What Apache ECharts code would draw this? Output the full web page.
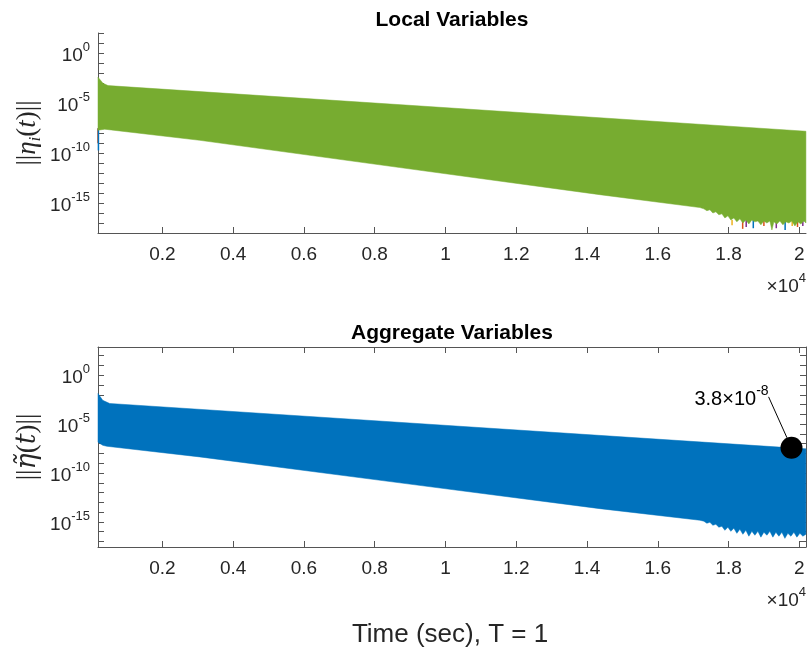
<!DOCTYPE html>
<html><head><meta charset="utf-8">
<script src="https://cdn.jsdelivr.net/npm/echarts@6/dist/echarts.min.js"></script>
<style>html,body{margin:0;padding:0;background:#fff}#c{width:811px;height:653px}</style>
</head><body><div id="c"></div>
<script>
// ---- data ----
const xTicks = [2000, 4000, 6000, 8000, 10000, 12000, 14000, 16000, 18000, 20000];
const yTicks = [1e-17,1e-16,1e-15,1e-14,1e-13,1e-12,1e-11,1e-10,1e-9,1e-8,1e-7,1e-6,1e-5,1e-4,1e-3,1e-2,1e-1,1,10,100];
const yLabelVals = [1e-15, 1e-10, 1e-5, 1];

// Local variables (green band envelopes)
const localUpperT = [178, 319, 461, 20187];
const localUpperV = [3.8e-3, 9.5e-4, 5.5e-4, 1.5e-8];
const localLowerT = [178, 368, 3053, 8708, 14363, 17190,
  17303, 17388, 17473, 17558, 17642, 17727, 17812, 17897, 17982, 18066, 18151, 18236, 18321, 18406, 18490, 18575, 18660, 18745,
  18830, 18915, 18999, 19084, 19169, 19226, 19282, 19367, 19452, 19537, 19621, 19706, 19791, 19876, 19961, 20045, 20130, 20187];
const localLowerV = [1.9e-8, 2.4e-8, 1.86e-9, 3.5e-12, 6.8e-15, 3.5e-16,
  2.6e-16, 1.7e-16, 2.1e-16, 1.0e-16, 1.3e-16, 6.6e-17, 8.3e-17, 3.2e-17, 5.2e-17, 2.0e-17, 3.2e-17, 1.3e-17, 2.6e-17, 1.0e-17, 2.0e-17, 8.1e-18, 2.0e-17, 1.3e-17,
  1.6e-17, 6.5e-18, 1.6e-17, 1.0e-17, 1.6e-17, 2.0e-18, 1.3e-17, 8.1e-18, 1.6e-17, 6.5e-18, 1.3e-17, 1.0e-17, 1.6e-17, 5.1e-18, 1.3e-17, 8.1e-18, 1.6e-17, 1.0e-17];

// other local agents peeking below the green band: [t, top, bottom]
const spikesOrange = [[178, 3e-8, 9.3e-10], [18400, 2e-17, 2.6e-18], [19000, 2e-17, 5e-18], [19950, 2e-17, 4e-18]];
const spikesPurple = [[18500, 2e-17, 4e-18], [19350, 2e-17, 3e-18], [20100, 2e-17, 5e-18]];
const spikesBlue = [[190, 3e-8, 1.8e-10], [18700, 2e-17, 3e-18], [19600, 2e-17, 2e-18]];
const spikesYellow = [[18100, 2e-17, 6e-18], [19800, 2e-17, 5e-18]];

// Aggregate variables (blue band envelopes)
const aggUpperT = [178, 311, 509, 20187];
const aggUpperV = [1.35e-2, 2.75e-3, 1.3e-3, 3.0e-8];
const aggLowerT = [178, 311, 424, 3053, 8708, 14363, 17190,
  17303, 17388, 17473, 17558, 17642, 17727, 17812, 17897, 17982, 18066, 18151, 18236, 18321, 18406, 18490, 18575, 18660, 18745,
  18830, 18915, 18999, 19084, 19169, 19254, 19339, 19424, 19508, 19593, 19678, 19763, 19848, 19932, 20017, 20102, 20187];
const aggLowerV = [1.4e-7, 6.9e-8, 5.5e-8, 4.5e-9, 1.0e-11, 2.3e-14, 1.5e-15,
  1.2e-15, 7.4e-16, 9.3e-16, 4.6e-16, 5.8e-16, 2.9e-16, 3.6e-16, 1.4e-16, 2.9e-16, 1.1e-16, 2.3e-16, 6.9e-17, 1.8e-16, 5.5e-17, 1.4e-16, 3.5e-17, 1.1e-16, 4.4e-17,
  1.1e-16, 2.8e-17, 8.9e-17, 4.4e-17, 1.1e-16, 2.8e-17, 8.9e-17, 3.5e-17, 8.9e-17, 2.1e-17, 6.9e-17, 3.5e-17, 8.9e-17, 2.8e-17, 6.9e-17, 3.5e-17, 5.5e-17];

// annotation point
const annotT = [19780];
const annotV = [3.8e-8];
const annotText = ['3.8×10', '-8'];

// ---- styling ----
const axisColor = '#555555';
const textColor = '#262626';
const sans = 'Liberation Sans, Arial, Helvetica, sans-serif';
const serif = 'Liberation Serif, DejaVu Serif, serif';

function bandSeries(xi, yi, upT, upV, loT, loV, color, z) {
  return {
    type: 'custom', xAxisIndex: xi, yAxisIndex: yi, z: z, silent: true,
    data: [[upT[0], upV[0]]],
    renderItem: function (params, api) {
      const pts = [];
      for (let i = 0; i < upT.length; i++) pts.push(api.coord([upT[i], upV[i]]));
      for (let i = loT.length - 1; i >= 0; i--) pts.push(api.coord([loT[i], loV[i]]));
      return { type: 'polygon', shape: { points: pts }, style: { fill: color, stroke: color, lineWidth: 0.5 } };
    }
  };
}
function spikeSeries(data, color) {
  return {
    type: 'custom', xAxisIndex: 0, yAxisIndex: 0, z: 1, silent: true,
    data: data,
    renderItem: function (params, api) {
      const p1 = api.coord([api.value(0), api.value(1)]);
      const p2 = api.coord([api.value(0), api.value(2)]);
      return { type: 'line', shape: { x1: p1[0], y1: p1[1], x2: p2[0], y2: p2[1] }, style: { stroke: color, lineWidth: 1.5 } };
    }
  };
}

const yLabelRich = {
  b: { fontSize: 19, fontFamily: sans, color: textColor, verticalAlign: 'bottom', lineHeight: 24 },
  s: { fontSize: 13, fontFamily: sans, color: textColor, verticalAlign: 'top', lineHeight: 24 }
};
const annotRich = {
  b: { fontSize: 20, fontFamily: sans, color: '#000', verticalAlign: 'bottom', lineHeight: 25 },
  s: { fontSize: 14, fontFamily: sans, color: '#000', verticalAlign: 'top', lineHeight: 25 }
};
function yFmt(v) {
  const e = Math.round(Math.log10(v));
  return '{b|10}{s|' + e + '}';
}

function xAxisMain(gi) {
  return {
    gridIndex: gi, type: 'value', min: 178, max: 20190,
    axisLine: { show: true, onZero: false, lineStyle: { color: axisColor, width: 1 } },
    axisTick: { show: true, inside: true, length: 6, customValues: xTicks, lineStyle: { color: axisColor } },
    axisLabel: { show: true, customValues: xTicks, margin: 12, fontSize: 19, fontFamily: sans, color: textColor,
      formatter: function (v) { return String(v / 10000); } },
    splitLine: { show: false }
  };
}
function yAxisMain(gi, mn, mx) {
  return {
    gridIndex: gi, type: 'log', logBase: 10, min: mn, max: mx,
    axisLine: { show: true, onZero: false, lineStyle: { color: axisColor, width: 1 } },
    axisTick: { show: true, inside: true, length: 6, customValues: yTicks, lineStyle: { color: axisColor } },
    axisLabel: { show: true, customValues: yLabelVals, margin: 8, formatter: yFmt, rich: yLabelRich },
    splitLine: { show: false }, minorTick: { show: false }
  };
}
const x4Rich = {
  x: { fontSize: 19, fontFamily: sans, fill: textColor, verticalAlign: 'bottom', lineHeight: 24 },
  b: { fontSize: 19, fontFamily: sans, fill: textColor, verticalAlign: 'bottom', lineHeight: 24 },
  s: { fontSize: 13, fontFamily: sans, fill: textColor, verticalAlign: 'top', lineHeight: 24 }
};

const option = {
  animation: false,
  backgroundColor: '#ffffff',
  grid: [
    { left: 98, top: 33, width: 708, height: 200 },
    { left: 98, top: 347, width: 708, height: 200 }
  ],
  xAxis: [
    xAxisMain(0),
    xAxisMain(1),
    { gridIndex: 1, type: 'value', min: 178, max: 20190, position: 'top',
      axisLine: { show: true, onZero: false, lineStyle: { color: axisColor } },
      axisTick: { show: true, inside: true, length: 6, customValues: xTicks, lineStyle: { color: axisColor } },
      axisLabel: { show: false }, splitLine: { show: false } }
  ],
  yAxis: [
    yAxisMain(0, 1e-18, 1e2),
    yAxisMain(1, 2.75e-18, 776),
    { gridIndex: 1, type: 'log', logBase: 10, min: 2.75e-18, max: 776, position: 'right',
      axisLine: { show: true, onZero: false, lineStyle: { color: axisColor } },
      axisTick: { show: true, inside: true, length: 6, customValues: yTicks, lineStyle: { color: axisColor } },
      axisLabel: { show: false }, splitLine: { show: false } }
  ],
  series: [
    spikeSeries(spikesOrange, '#D95319'),
    spikeSeries(spikesPurple, '#7E2F8E'),
    spikeSeries(spikesBlue, '#0072BD'),
    spikeSeries(spikesYellow, '#EDB120'),
    bandSeries(0, 0, localUpperT, localUpperV, localLowerT, localLowerV, '#77AC30', 2),
    bandSeries(1, 1, aggUpperT, aggUpperV, aggLowerT, aggLowerV, '#0072BD', 2),
    {
      type: 'scatter', xAxisIndex: 1, yAxisIndex: 1, z: 5,
      data: annotT.map((t, i) => [t, annotV[i]]),
      symbol: 'circle', symbolSize: 22,
      itemStyle: { color: '#000000', opacity: 1 },
      label: { show: true, position: 'inside', color: '#000',
        formatter: '{b|' + annotText[0] + '}{s|' + annotText[1] + '}',
        rich: annotRich },
      labelLayout: { dx: -60, dy: -51 },
      labelLine: { show: true, lineStyle: { color: '#000000', width: 1, opacity: 1 } },
      emphasis: { disabled: true }
    }
  ],
  graphic: [
    { type: 'text', x: 452, y: 20, style: { text: 'Local Variables', font: 'bold 21px ' + sans, fill: '#000', align: 'center', verticalAlign: 'middle' } },
    { type: 'text', x: 452, y: 333, style: { text: 'Aggregate Variables', font: 'bold 21px ' + sans, fill: '#000', align: 'center', verticalAlign: 'middle' } },
    { type: 'text', x: 450, y: 635, style: { text: 'Time (sec), T = 1', font: '26px ' + sans, fill: textColor, align: 'center', verticalAlign: 'middle' } },
    { type: 'text', x: 806, y: 284, style: { text: '{x|×}{b|10}{s|4}', align: 'right', verticalAlign: 'middle', rich: x4Rich } },
    { type: 'text', x: 806, y: 598, style: { text: '{x|×}{b|10}{s|4}', align: 'right', verticalAlign: 'middle', rich: x4Rich } },
    { type: 'text', x: 28, y: 133, rotation: Math.PI / 2, style: { text: '{n|||}{it|η}{sub|i}{n|(}{it|t}{n|)||}', align: 'center', verticalAlign: 'middle', rich: {
        n: { fontSize: 27, fontFamily: serif, fill: textColor, lineHeight: 32, verticalAlign: 'middle' },
        it: { fontSize: 27, fontFamily: serif, fontStyle: 'italic', fill: textColor, lineHeight: 32, verticalAlign: 'middle' },
        sub: { fontSize: 17, fontFamily: serif, fontStyle: 'italic', fill: textColor, lineHeight: 32, verticalAlign: 'bottom' } } } },
    { type: 'text', x: 28, y: 447, rotation: Math.PI / 2, style: { text: '{n|||}{it|η̃}{n|(}{it|t}{n|)||}', align: 'center', verticalAlign: 'middle', rich: {
        n: { fontSize: 27, fontFamily: serif, fill: textColor, lineHeight: 32, verticalAlign: 'middle' },
        it: { fontSize: 27, fontFamily: 'DejaVu Serif, serif', fontStyle: 'italic', fill: textColor, lineHeight: 32, verticalAlign: 'middle' } } } }
  ]
};
const chart = echarts.init(document.getElementById('c'), null, { renderer: 'canvas' });
chart.setOption(option);
</script>
</body></html>
